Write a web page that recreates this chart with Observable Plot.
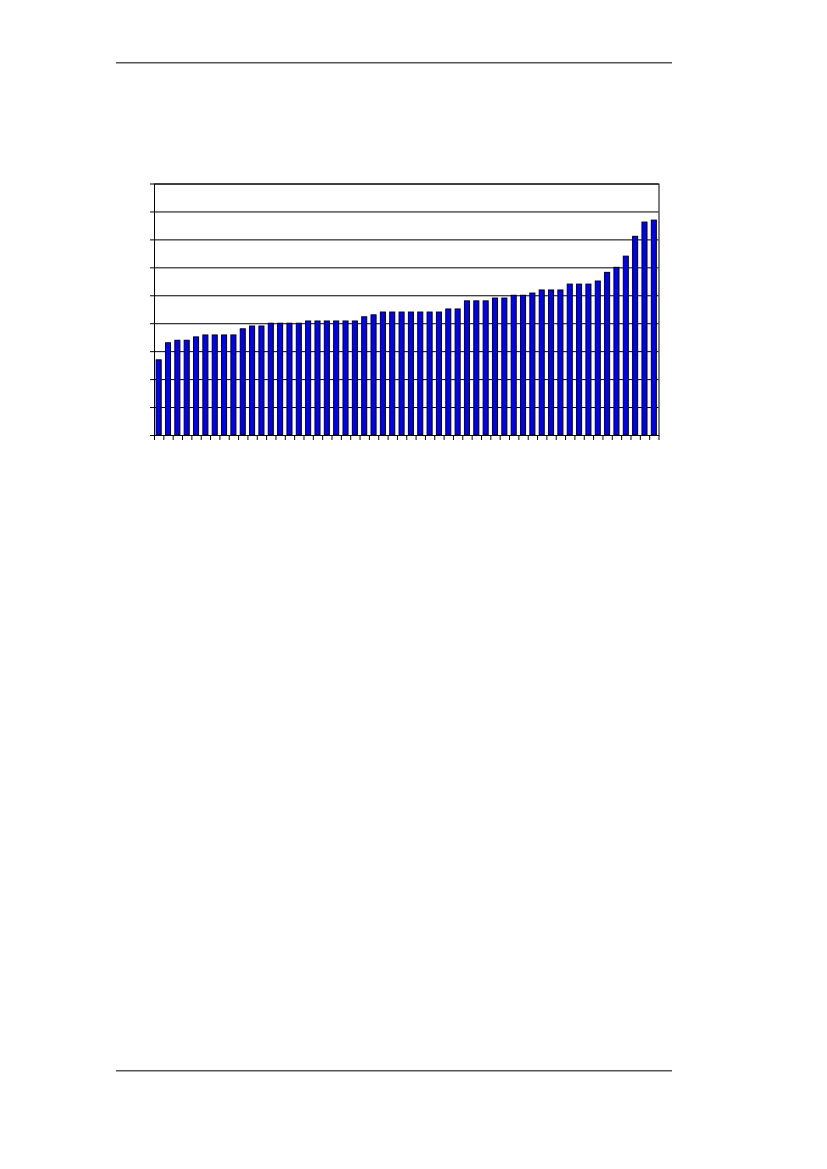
<!DOCTYPE html>
<html>
<head>
<meta charset="utf-8">
<script src="https://cdn.jsdelivr.net/npm/d3@7"></script>
<script src="https://cdn.jsdelivr.net/npm/@observablehq/plot@0.6"></script>
<style>
  html, body { margin: 0; padding: 0; background: #fff; }
  body { width: 827px; height: 1169px; position: relative; overflow: hidden; font-family: "Liberation Sans", Arial, sans-serif; }
  .rule { position: absolute; left: 116px; width: 556px; height: 1px; background: #555; border-bottom: 1px solid #aaa; }
  #chart { position: absolute; left: 0; top: 0; }
</style>
</head>
<body>
<div class="rule" style="top:62px"></div>
<div class="rule" style="top:1070px"></div>
<div id="chart"></div>
<script>
// Category index (no visible labels) and values (gridline units)
const categories = d3.range(1, 55).map(String);
const values = [
  2.69, 3.30, 3.39, 3.39, 3.51, 3.58, 3.58, 3.58, 3.58, 3.80,
  3.90, 3.90, 4.00, 4.00, 4.00, 4.00, 4.08, 4.08, 4.08, 4.08,
  4.08, 4.08, 4.23, 4.30, 4.40, 4.40, 4.40, 4.40, 4.40, 4.40,
  4.40, 4.51, 4.51, 4.80, 4.80, 4.80, 4.90, 4.90, 5.00, 5.00,
  5.08, 5.19, 5.19, 5.19, 5.40, 5.40, 5.40, 5.51, 5.82, 6.00,
  6.40, 7.11, 7.62, 7.69
];
const yTicks = d3.range(0, 10);

const data = categories.map((c, i) => ({cat: c, value: values[i]}));

const W = 827, H = 470;
const mL = 154, mR = 168.5, mT = 183.5, mB = 35;
const step = (W - mL - mR) / categories.length;

const chart = Plot.plot({
  width: W,
  height: H,
  marginLeft: mL,
  marginRight: mR,
  marginTop: mT,
  marginBottom: mB,
  style: {background: "transparent", overflow: "visible"},
  x: {domain: categories, paddingInner: 0.46, paddingOuter: 0.23, round: false, axis: null, label: null},
  y: {domain: [0, 9], axis: null, label: null},
  marks: [
    Plot.gridY(yTicks, {stroke: "#000", strokeOpacity: 1, strokeWidth: 1}),
    Plot.barY(data, {x: "cat", y: "value", fill: "#0000ff", stroke: "#000", strokeWidth: 1}),
    Plot.axisY({ticks: yTicks, tickSize: 4, tickFormat: () => "", label: null, stroke: "#000", strokeWidth: 1}),
    Plot.axisX({ticks: categories, tickSize: 5, tickFormat: () => "", label: null, dx: -step / 2, stroke: "#000", strokeWidth: 1}),
    Plot.axisX({ticks: [categories[categories.length - 1]], tickSize: 5, tickFormat: () => "", label: null, dx: step / 2, stroke: "#000", strokeWidth: 1}),
    Plot.frame({stroke: "#000", strokeWidth: 1})
  ]
});
document.getElementById("chart").appendChild(chart);
</script>
</body>
</html>
